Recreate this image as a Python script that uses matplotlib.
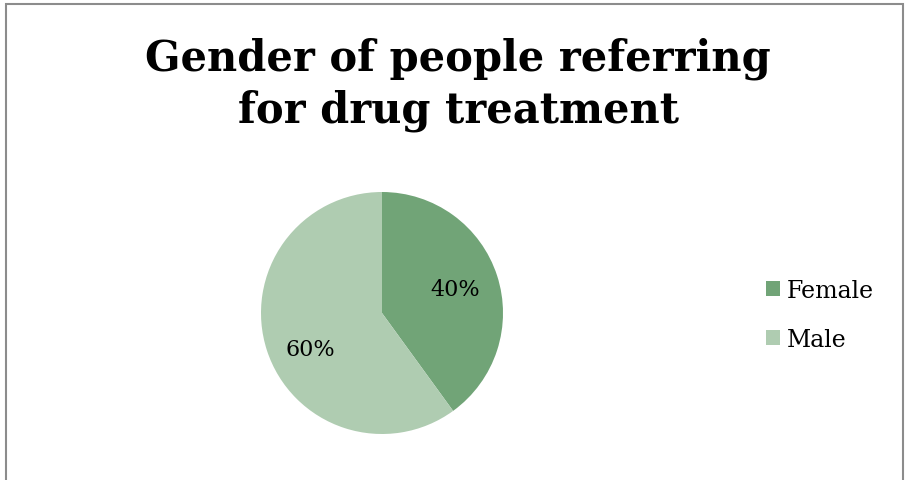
import matplotlib
matplotlib.use('Agg')
import matplotlib.pyplot as plt
from matplotlib.patches import Rectangle, Patch

labels = ['Female', 'Male']
shares = [40, 60]
colors = ['#71A477', '#AFCCB1']
title = 'Gender of people referring\nfor drug treatment'

W, H = 907, 481
fig = plt.figure(figsize=(W / 100, H / 100), dpi=100)

# chart frame (open at the bottom, runs off the canvas)
fig.patches.append(Rectangle((6 / W, -0.05), 897 / W, 1.05 - 5 / H,
                             transform=fig.transFigure, fill=False,
                             edgecolor='#8c8c8c', linewidth=1.5))

fig.text(458 / W, 1 - 85 / H, title, ha='center', va='center',
         family='DejaVu Serif', fontweight='bold', fontsize=30,
         linespacing=1.3)

cx, cy, r = 382, 314, 121
ax = fig.add_axes([(cx - r) / W, (H - cy - r) / H, 2 * r / W, 2 * r / H])
wedges, texts, autotexts = ax.pie(
    shares, colors=colors, startangle=90, counterclock=False,
    autopct='%d%%', pctdistance=0.64,
    textprops={'family': 'DejaVu Serif', 'fontsize': 16},
)
# nudge the larger slice's label a little lower
x, y = autotexts[1].get_position()
autotexts[1].set_position((x + 0.02, y - 0.1))
ax.set_xlim(-1, 1)
ax.set_ylim(-1, 1)
ax.set_aspect('equal')

handles = [Patch(facecolor=c, label=l) for c, l in zip(colors, labels)]
fig.legend(handles=handles, loc='center left', bbox_to_anchor=(766 / W, 1 - 316 / H),
           frameon=False, prop={'family': 'DejaVu Serif', 'size': 17},
           handlelength=0.6, handleheight=0.6, handletextpad=0.3,
           labelspacing=1.1, borderaxespad=0, borderpad=0)

fig.savefig('out.png', dpi=100)
